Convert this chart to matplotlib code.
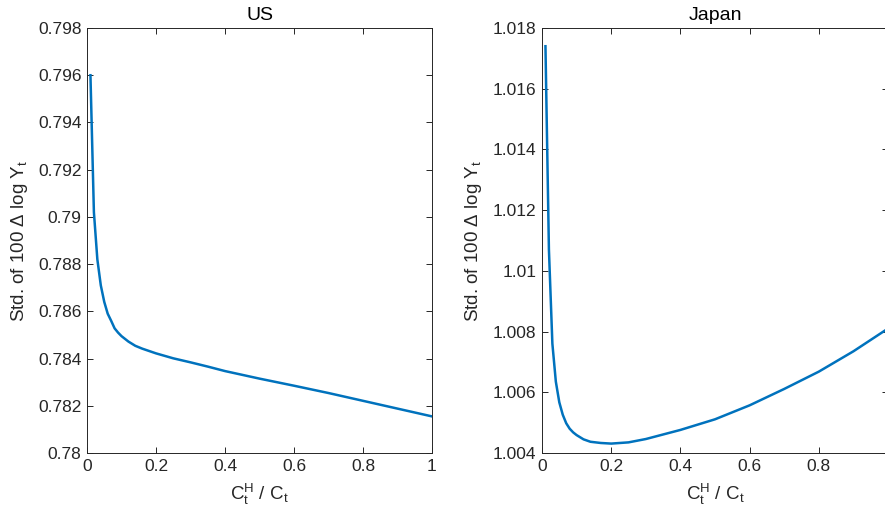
import matplotlib
matplotlib.use("Agg")
import matplotlib.pyplot as plt
from matplotlib.ticker import FuncFormatter

plt.rcParams['font.family'] = ['Liberation Sans', 'DejaVu Sans']
plt.rcParams['mathtext.fontset'] = 'custom'
plt.rcParams['mathtext.rm'] = 'Liberation Sans'
plt.rcParams['mathtext.it'] = 'Liberation Sans:italic'
plt.rcParams['mathtext.sf'] = 'Liberation Sans'

# US: std of output growth vs. share C^H / C
us_x = [0.01, 0.02, 0.03, 0.04, 0.05, 0.06, 0.07, 0.08, 0.09, 0.10, 0.12,
        0.14, 0.16, 0.18, 0.2, 0.25, 0.3, 0.35, 0.4, 0.5, 0.6, 0.7, 0.8,
        0.9, 1.0]
us_y = [0.7960, 0.7902, 0.7882, 0.7871, 0.7864, 0.7859, 0.7856, 0.78528,
        0.7851, 0.78495, 0.78472, 0.78454, 0.78442, 0.78432, 0.78422,
        0.78401, 0.78384, 0.78366, 0.78347, 0.78315, 0.78285, 0.78254,
        0.78221, 0.78188, 0.78155]

# Japan
jp_x = [0.01, 0.02, 0.03, 0.04, 0.05, 0.06, 0.07, 0.08, 0.09, 0.10, 0.12,
        0.14, 0.17, 0.2, 0.25, 0.3, 0.35, 0.4, 0.5, 0.6, 0.7, 0.8, 0.9, 1.0]
jp_y = [1.0174, 1.0107, 1.0076, 1.00635, 1.00567, 1.00526, 1.00498, 1.0048,
        1.00468, 1.00459, 1.00445, 1.00437, 1.00433, 1.00431, 1.00435,
        1.00446, 1.00461, 1.00476, 1.00511, 1.00557, 1.00611, 1.00668,
        1.00735, 1.0081]

xticks = [0, 0.2, 0.4, 0.6, 0.8, 1]
us_yticks = [0.78, 0.782, 0.784, 0.786, 0.788, 0.79, 0.792, 0.794, 0.796, 0.798]
jp_yticks = [1.004, 1.006, 1.008, 1.01, 1.012, 1.014, 1.016, 1.018]

blue = '#0072BD'
dark = '#262626'
fmt = FuncFormatter(lambda v, p: '%g' % round(v, 6))

fig = plt.figure(figsize=(8.85, 5.21), dpi=100)
ax1 = fig.add_axes([87/885, 68/521, 345/885, 425/521])
ax2 = fig.add_axes([542/885, 68/521, 346/885, 425/521])

panels = [(ax1, us_x, us_y, us_yticks, 'US'),
          (ax2, jp_x, jp_y, jp_yticks, 'Japan')]
for ax, x, y, yt, title in panels:
    ax.plot(x, y, color=blue, lw=1.8, solid_joinstyle='round')
    ax.set_xlim(0, 1)
    ax.set_ylim(yt[0], yt[-1])
    ax.set_xticks(xticks)
    ax.set_yticks(yt)
    ax.xaxis.set_major_formatter(fmt)
    ax.yaxis.set_major_formatter(fmt)
    ax.tick_params(direction='in', length=4.5, width=0.7, top=True, right=True,
                   labelsize=12.5, colors=dark, pad=4)
    for s in ax.spines.values():
        s.set_color(dark)
        s.set_linewidth(0.7)
    ax.set_title(title, fontsize=14, color='black', pad=6)
    ax.set_xlabel(r'C$_\mathrm{t}^\mathrm{H}$ / C$_\mathrm{t}$', fontsize=13.5, color=dark, labelpad=6)
    ax.set_ylabel(r'Std. of 100 $\Delta$ log Y$_\mathrm{t}$', fontsize=13.5, color=dark, labelpad=6)

fig.savefig('out.png', dpi=100)
